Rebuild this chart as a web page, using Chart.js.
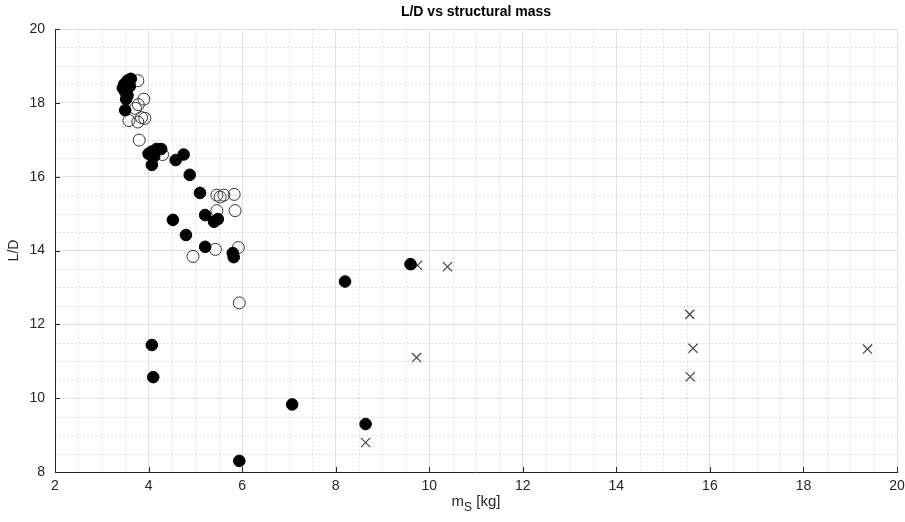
<!DOCTYPE html>
<html>
<head>
<meta charset="utf-8">
<script src="https://cdn.jsdelivr.net/npm/chart.js@4/dist/chart.umd.min.js"></script>
<style>
  html, body { margin: 0; padding: 0; background: #fff; }
</style>
</head>
<body>
<canvas id="grafica" width="905" height="522"></canvas>
<script>
// datos
const solidMass = [3.62, 3.55, 3.48, 3.45, 3.5, 3.6, 3.55, 3.52, 3.5,
  4.07, 4.0, 4.17, 4.27, 4.12, 4.07, 4.58, 4.75,
  4.88, 5.1, 4.52, 5.21, 5.4, 5.48, 4.8, 5.21, 5.8, 5.82,
  9.6, 8.2, 4.07, 4.1, 7.07, 8.64, 5.94];
const solidLD = [18.65, 18.6, 18.5, 18.4, 18.3, 18.45, 18.2, 18.1, 17.8,
  16.68, 16.62, 16.75, 16.75, 16.55, 16.32, 16.45, 16.6,
  16.05, 15.56, 14.83, 14.96, 14.78, 14.85, 14.42, 14.1, 13.93, 13.82,
  13.63, 13.16, 11.44, 10.57, 9.83, 9.3, 8.3];

const openMass = [3.6, 3.77, 3.9, 3.78, 3.72, 3.58, 3.77, 3.85, 3.92, 3.8, 4.3,
  5.46, 5.53, 5.61, 5.83, 5.46, 5.85, 5.43, 5.92, 4.95, 5.94];
const openLD = [18.62, 18.6, 18.1, 17.95, 17.85, 17.52, 17.48, 17.6, 17.58, 16.99, 16.6,
  15.5, 15.45, 15.5, 15.52, 15.08, 15.08, 14.03, 14.08, 13.84, 12.58];

const crossMass = [9.75, 10.39, 9.73, 8.64, 15.57, 15.64, 15.58, 19.37];
const crossLD = [13.6, 13.56, 11.1, 8.8, 12.27, 11.35, 10.58, 11.33];

const xTicks = [2, 4, 6, 8, 10, 12, 14, 16, 18, 20];
const yTicks = [8, 10, 12, 14, 16, 18, 20];

const FONT = '"Liberation Sans", Arial, sans-serif';
const TXT = '#262626';

function toPoints(xs, ys) {
  return xs.map((x, i) => ({ x: x, y: ys[i] }));
}

// rejilla menor punteada, marcas hacia dentro, titulo y etiqueta x
const extras = {
  id: 'extras',
  beforeDatasetsDraw(chart) {
    const { ctx, chartArea: a, scales } = chart;
    ctx.save();
    ctx.strokeStyle = 'rgba(38,38,38,0.15)';
    ctx.lineWidth = 1;
    ctx.setLineDash([2, 2]);
    for (let v = 2.5; v < 20; v += 0.5) {
      if (v % 2 === 0) continue;
      const px = Math.round(scales.x.getPixelForValue(v)) + 0.5;
      ctx.beginPath(); ctx.moveTo(px, a.top); ctx.lineTo(px, a.bottom); ctx.stroke();
    }
    for (let v = 8.5; v < 20; v += 0.5) {
      if (v % 2 === 0) continue;
      const py = Math.round(scales.y.getPixelForValue(v)) + 0.5;
      ctx.beginPath(); ctx.moveTo(a.left, py); ctx.lineTo(a.right, py); ctx.stroke();
    }
    ctx.setLineDash([]);
    ctx.strokeStyle = TXT;
    xTicks.forEach(v => {
      const px = Math.round(scales.x.getPixelForValue(v)) + 0.5;
      ctx.beginPath(); ctx.moveTo(px, a.bottom); ctx.lineTo(px, a.bottom - 5); ctx.stroke();
    });
    yTicks.forEach(v => {
      const py = Math.round(scales.y.getPixelForValue(v)) + 0.5;
      ctx.beginPath(); ctx.moveTo(a.left, py); ctx.lineTo(a.left + 5, py); ctx.stroke();
    });
    ctx.restore();
  },
  afterDraw(chart) {
    const { ctx, chartArea: a } = chart;
    const cx = (a.left + a.right) / 2;
    ctx.save();
    ctx.fillStyle = '#000';
    ctx.font = 'bold 14px ' + FONT;
    ctx.textAlign = 'center';
    ctx.textBaseline = 'middle';
    ctx.fillText('L/D vs structural mass', cx, 12);

    // m_S [kg] con subindice
    ctx.fillStyle = TXT;
    ctx.textAlign = 'left';
    ctx.textBaseline = 'alphabetic';
    ctx.font = '15px ' + FONT;
    const wM = ctx.measureText('m').width;
    const wK = ctx.measureText(' [kg]').width;
    ctx.font = '12px ' + FONT;
    const wS = ctx.measureText('S').width;
    let x0 = cx - (wM + wS + wK) / 2;
    const base = 506;
    ctx.font = '15px ' + FONT;
    ctx.fillText('m', x0, base);
    ctx.font = '12px ' + FONT;
    ctx.fillText('S', x0 + wM, base + 5);
    ctx.font = '15px ' + FONT;
    ctx.fillText(' [kg]', x0 + wM + wS, base);
    ctx.restore();
  }
};

const ctx = document.getElementById('grafica').getContext('2d');
const chart = new Chart(ctx, {
  type: 'scatter',
  data: {
    datasets: [
      {
        label: 'solid',
        data: toPoints(solidMass, solidLD),
        pointStyle: 'circle',
        pointRadius: 5.8,
        backgroundColor: '#000',
        borderColor: '#000',
        borderWidth: 1
      },
      {
        label: 'open',
        data: toPoints(openMass, openLD),
        pointStyle: 'circle',
        pointRadius: 6,
        backgroundColor: 'rgba(0,0,0,0)',
        borderColor: '#333',
        borderWidth: 1
      },
      {
        label: 'cross',
        data: toPoints(crossMass, crossLD),
        pointStyle: 'crossRot',
        pointRadius: 6.5,
        borderColor: '#444',
        borderWidth: 1.2
      }
    ]
  },
  options: {
    responsive: false,
    animation: false,
    devicePixelRatio: 1,
    layout: { padding: { top: 29, right: 8, left: 0, bottom: 0 } },
    plugins: {
      legend: { display: false },
      title: { display: false },
      tooltip: { enabled: false }
    },
    elements: { point: { hoverRadius: 6 } },
    scales: {
      x: {
        type: 'linear',
        min: 2,
        max: 20,
        afterBuildTicks: s => { s.ticks = xTicks.map(v => ({ value: v })); },
        ticks: { color: TXT, font: { family: FONT, size: 14 }, padding: 6, maxRotation: 0 },
        grid: { color: '#e2e2e2', drawTicks: false },
        border: { color: TXT, width: 1 },
        afterFit: s => { s.height = 50; s.paddingRight = 0; s.paddingLeft = 0; }
      },
      y: {
        type: 'linear',
        min: 8,
        max: 20,
        afterBuildTicks: s => { s.ticks = yTicks.map(v => ({ value: v })); },
        ticks: { color: TXT, font: { family: FONT, size: 14 }, padding: 10 },
        grid: { color: '#e2e2e2', drawTicks: false },
        border: { color: TXT, width: 1 },
        title: {
          display: true,
          text: 'L/D',
          color: TXT,
          font: { family: FONT, size: 14 },
          padding: { top: 6, bottom: 0 }
        },
        afterFit: s => { s.width = 55; s.paddingTop = 0; s.paddingBottom = 0; }
      }
    }
  },
  plugins: [extras]
});
</script>
</body>
</html>
